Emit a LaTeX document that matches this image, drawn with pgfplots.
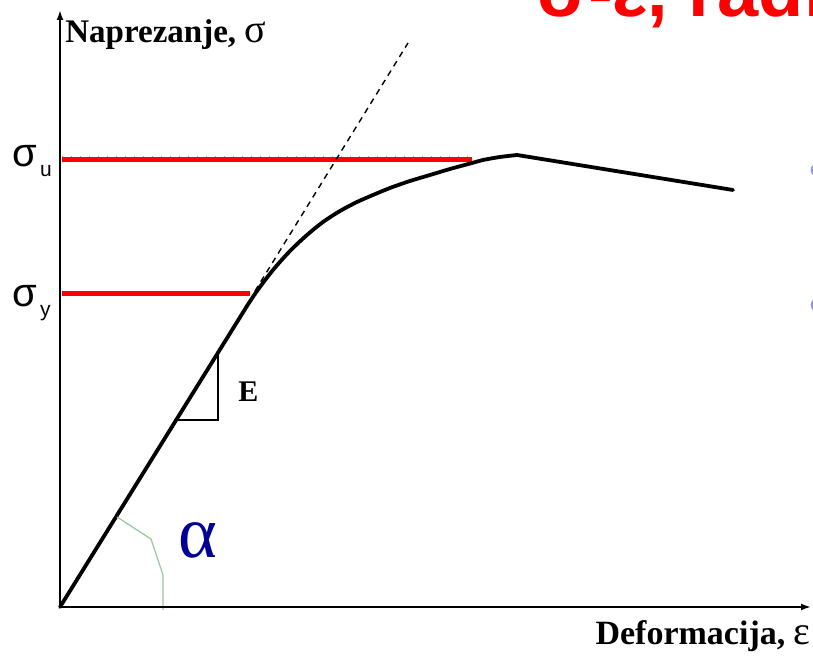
\documentclass[border=0pt]{standalone}
\usepackage{pgfplots}
\pgfplotsset{compat=1.18}
\usetikzlibrary{arrows.meta}
\usepackage{fontspec}
\setmainfont{Liberation Serif}
\newfontfamily\sans{Liberation Sans}
\definecolor{titlered}{RGB}{255,0,0}
\definecolor{alphablue}{RGB}{0,0,150}
\definecolor{arcgreen}{RGB}{150,200,150}
\definecolor{bulletviolet}{RGB}{150,150,225}

\begin{document}
\begin{tikzpicture}
\begin{axis}[
    hide axis,
    scale only axis,
    width=406.5pt,
    height=328.5pt,
    xmin=-60, xmax=753,
    ymin=-50, ymax=607,
    clip=false,
]
% faint dotted guides above the red levels
\addplot[gray!70, line width=0.4pt, dash pattern=on 0.5pt off 4pt] coordinates {(2,451) (410,451)};
\addplot[gray!70, line width=0.4pt, dash pattern=on 0.5pt off 4pt] coordinates {(2,316) (190,316)};
% sigma_u and sigma_y levels
\addplot[titlered, line width=2.5pt] coordinates {(2,447) (412,447)};
\addplot[titlered, line width=2.5pt] coordinates {(2,313) (190,313)};
% tangent (dashed)
\addplot[black, line width=0.7pt, dash pattern=on 3pt off 2.5pt] coordinates {(195,316) (348,564)};
% stress-strain curve
\addplot[black, line width=1.9pt, line join=round, line cap=round] coordinates {
    (0,0) (187,301)
};
\addplot[black, line width=1.9pt, line join=round, line cap=round, smooth, tension=0.5] coordinates {
    (187,301) (197,316) (213,337) (230,356) (247,372) (263,385) (280,396)
    (297,405) (313,412) (330,419) (350,426) (370,432) (390,438) (412,444)
    (423,447) (440,450) (457,452)
};
\addplot[black, line width=1.9pt, line join=round, line cap=round] coordinates {
    (457,452) (673,417)
};
% slope triangle E
\addplot[black, line width=0.8pt] coordinates {(114,187) (158,187) (158,255)};
% angle alpha
\addplot[arcgreen, line width=0.6pt] coordinates {(57,90) (91,68) (103,32) (103,-3)};
% axes
\addplot[black, line width=1pt, -{Latex[length=5pt,width=3.5pt]}] coordinates {(0,0) (0,597)};
\addplot[black, line width=1pt, -{Latex[length=5pt,width=3.5pt]}] coordinates {(0,0) (751,0)};
% partial bullets at the right edge
\addplot[only marks, mark=*, mark size=3pt, bulletviolet, mark options={draw=bulletviolet, fill=bulletviolet}] coordinates {(757,437) (757,302)};

\node[anchor=base west, inner sep=0, font=\bfseries\fontsize{16.5}{16.5}\selectfont] at (axis cs:5,564) {Naprezanje, {\mdseries\fontsize{20}{20}\selectfont σ}};
\node[anchor=base east, inner sep=0, font=\bfseries\fontsize{17}{17}\selectfont] at (axis cs:751,-38) {Deformacija, {\mdseries\fontsize{20}{20}\selectfont ε}};
\node[anchor=base west, inner sep=0] at (axis cs:-48,440) {{\sans\fontsize{20}{20}\selectfont σ}\hspace{1.5pt}\raisebox{-5pt}{\sans\fontsize{10.5}{10.5}\selectfont u}};
\node[anchor=base west, inner sep=0] at (axis cs:-48,300) {{\sans\fontsize{20}{20}\selectfont σ}\hspace{1.5pt}\raisebox{-5pt}{\sans\fontsize{10.5}{10.5}\selectfont y}};
\node[anchor=base west, inner sep=0, font=\bfseries\fontsize{15}{15}\selectfont] at (axis cs:178,205) {E};
\node[anchor=base west, inner sep=0, text=alphablue, font=\fontsize{37}{37}\selectfont] at (axis cs:118,49) {α};
\node[anchor=base west, inner sep=0, text=titlered, font=\sans\bfseries\fontsize{37}{37}\selectfont] at (axis cs:477,590) {σ-ε, radi};

\coordinate (BL) at (axis cs:-60,-50);
\coordinate (TR) at (axis cs:753,607);
\end{axis}
\pgfresetboundingbox
\path[use as bounding box] (BL) rectangle (TR);
\end{tikzpicture}
\end{document}
